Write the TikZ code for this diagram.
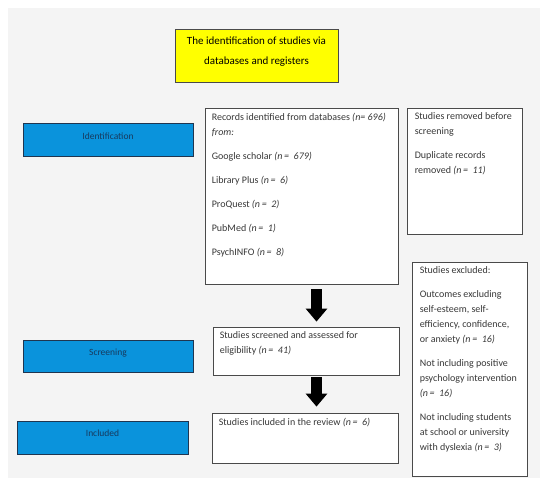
\documentclass[tikz,border=0pt]{standalone}
\usepackage{fontspec}
\setmainfont{Carlito}
\usetikzlibrary{arrows.meta}
\definecolor{bg}{HTML}{F4F4F4}
\definecolor{boxline}{HTML}{4A4A4A}
\definecolor{boxtext}{HTML}{383838}
\definecolor{bluefill}{HTML}{0A93DC}
\definecolor{blueline}{HTML}{1F3550}
\definecolor{bluetext}{HTML}{173A5E}
\definecolor{yfill}{HTML}{FFFF00}
\tikzset{
  wbox/.style={draw=boxline, fill=white, line width=0.8pt, inner sep=0pt},
  bluebox/.style={draw=blueline, fill=bluefill, line width=1pt, inner sep=0pt},
  ybox/.style={draw=boxline, fill=yfill, line width=0.9pt, inner sep=0pt},
  txt/.style={inner sep=0pt, align=left, text=boxtext, font=\fontsize{10}{15}\selectfont},
  bluetxt/.style={inner sep=0pt, text=bluetext, font=\fontsize{9.5}{12}\selectfont},
  ytxt/.style={inner sep=0pt, align=center, text=black, font=\fontsize{11}{20}\selectfont},
  blockarrow/.style={line width=11pt, draw=black, -{Triangle[length=13pt, width=21pt]}}
}
\newcommand{\nn}[1]{\textit{(n\,=\ \ #1)}}
\begin{document}
\begin{tikzpicture}[x=1pt,y=-1pt]
\useasboundingbox (0,0) rectangle (550,486);
\fill[bg] (8,8) rectangle (540,478);

% title
\node[ybox, minimum width=163pt, minimum height=53pt] (title) at (256.5,55.5) {};
\node[ytxt] (titleT) at (256.5,52) {The identification of studies via\\databases and registers};

% phase labels
\node[bluebox, minimum width=170pt, minimum height=33pt] (id) at (108,140.5) {};
\node[bluetxt] (idT) at (108,136) {Identification};
\node[bluebox, minimum width=170pt, minimum height=32pt] (scr) at (108,357) {};
\node[bluetxt] (scrT) at (108,353) {Screening};
\node[bluebox, minimum width=171pt, minimum height=33pt] (inc) at (102.5,438.5) {};
\node[bluetxt] (incT) at (102.5,433) {Included};

% boxes
\node[wbox, minimum width=193pt, minimum height=176pt] (records) at (301.5,196) {};
\node[txt, anchor=north west] (recordsT) at ([xshift=7pt,yshift=-5pt]records.north west)
  {Records identified from databases \textit{(n= 696)}\\
   \textit{from:}\\[9pt]
   Google scholar \nn{679}\\[9pt]
   Library Plus \nn{6}\\[9pt]
   ProQuest \nn{2}\\[9pt]
   PubMed \nn{1}\\[9pt]
   PsychINFO \nn{8}};

\node[wbox, minimum width=115pt, minimum height=126pt] (removed) at (464.5,171) {};
\node[txt, anchor=north west] (removedT) at ([xshift=8pt,yshift=-5pt]removed.north west)
  {Studies removed before\\
   screening\\[9pt]
   Duplicate records\\
   removed \nn{11}};

\node[wbox, minimum width=186pt, minimum height=48pt] (screened) at (306,351) {};
\node[txt, anchor=north west] (screenedT) at ([xshift=7pt,yshift=-5pt]screened.north west)
  {Studies screened and assessed for\\
   eligibility \nn{41}};

\node[wbox, minimum width=186pt, minimum height=50pt] (included) at (305,438) {};
\node[txt, anchor=north west] (includedT) at ([xshift=7pt,yshift=-5pt]included.north west)
  {Studies included in the review \nn{6}};

\node[wbox, minimum width=115pt, minimum height=214pt] (excluded) at (469.5,369) {};
\node[txt, anchor=north west] (excludedT) at ([xshift=8pt,yshift=-5pt]excluded.north west)
  {Studies excluded:\\[9pt]
   Outcomes excluding\\
   self-esteem, self-\\
   efficiency, confidence,\\
   or anxiety \nn{16}\\[9pt]
   Not including positive\\
   psychology intervention\\
   \nn{16}\\[9pt]
   Not including students\\
   at school or university\\
   with dyslexia \nn{3}};

% arrows
\coordinate (ax) at (316.5,0);
\draw[blockarrow] ([yshift=-5pt]records.south -| ax) -- ([yshift=5pt]screened.north -| ax);
\draw[blockarrow] ([yshift=-2pt]screened.south -| ax) -- ([yshift=6pt]included.north -| ax);
\end{tikzpicture}
\end{document}
